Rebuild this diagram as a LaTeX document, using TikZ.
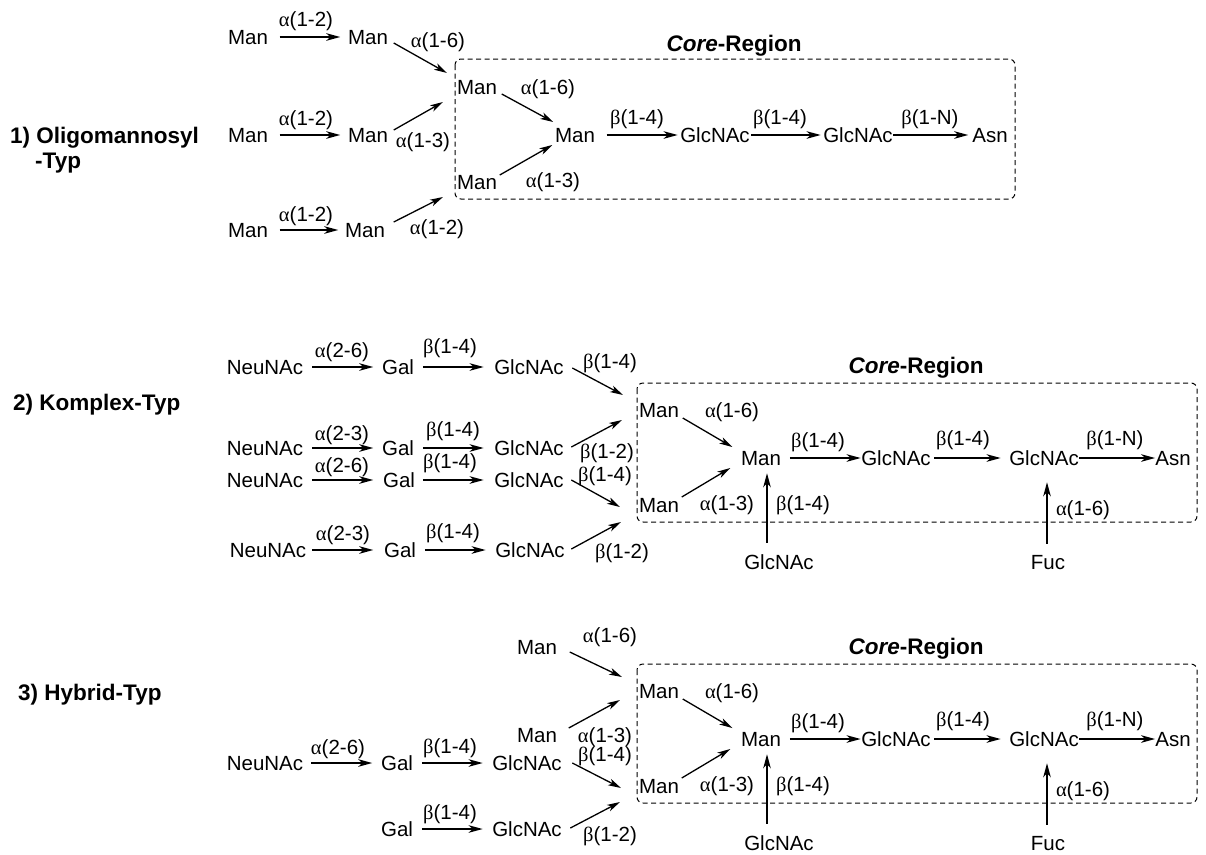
\documentclass[tikz,border=0pt]{standalone}
\usepackage{fontspec}
\setmainfont{Liberation Sans}
\newfontfamily\grk{Liberation Serif}
\usetikzlibrary{arrows.meta}
\newcommand\GA{{\grk α}}
\newcommand\GB{{\grk β}}
\tikzset{
 sug/.style={inner sep=0pt, text height=15pt, text depth=0pt, font=\fontsize{20.5}{24}\selectfont},
 lbl/.style={sug},
 ttl/.style={inner sep=0pt, anchor=west, text height=16pt, text depth=0pt, font=\fontsize{22.5}{26}\selectfont\bfseries},
 tip/.style={-{Stealth[length=14pt,width=7.5pt,inset=4pt]}},
 dtip/.style={-{Stealth[length=13pt,width=7pt,inset=3.5pt]}},
 harr/.style={tip, line width=1.8pt},
 darr/.style={dtip, line width=1.3pt},
 varr/.style={tip, line width=1.8pt},
 corebox/.style={draw, line width=1pt, dash pattern=on 5pt off 3.5pt, rounded corners=6pt},
}
\newcommand\corereg[2]{%
\begin{scope}[shift={(0,#2)}]
\draw[corebox] (637,383) rectangle (1197,522);
\node[ttl, anchor=center] (#1title) at (916,365) {\textit{Core}-Region};
\node[sug] (#1mt) at (659,410) {Man};
\node[sug] (#1mb) at (659,505) {Man};
\node[sug] (#1mc) at (761,458) {Man};
\node[sug] (#1ga) at (896,458) {GlcNAc};
\node[sug] (#1gb) at (1044,458) {GlcNAc};
\node[sug] (#1asn) at (1173,458) {Asn};
\node[sug] (#1gd) at (779,562) {GlcNAc};
\node[sug] (#1fuc) at (1048,562) {Fuc};
\draw[darr] ([xshift=3.6pt,yshift=-8pt]#1mt.east) -- ([xshift=-8.6pt,yshift=11pt]#1mc.west);
\draw[darr] ([xshift=2.6pt,yshift=8pt]#1mb.east) -- ([xshift=-10.6pt,yshift=-10pt]#1mc.west);
\draw[harr, shorten <=8.6pt, shorten >=0.4pt] (#1mc) -- (#1ga);
\draw[harr, shorten <=3.4pt, shorten >=8.4pt] (#1ga) -- (#1gb);
\draw[harr, shorten <=0.4pt, shorten >=0pt] (#1gb) -- (#1asn);
\draw[varr] ([xshift=-12pt,yshift=11.5pt]#1gd.north) -- ([xshift=6pt,yshift=-7.5pt]#1mc.south);
\draw[varr] ([xshift=-1pt,yshift=10.5pt]#1fuc.north) -- ([xshift=3pt,yshift=-16.5pt]#1gb.south);
\node[lbl] (#1l1) at (732,410) {\GA(1-6)};
\node[lbl] (#1l2) at (727,503) {\GA(1-3)};
\node[lbl] (#1l3) at (818,440) {\GB(1-4)};
\node[lbl] (#1l4) at (963,438) {\GB(1-4)};
\node[lbl] (#1l5) at (1115,438) {\GB(1-N)};
\node[lbl] (#1l6) at (803,503) {\GB(1-4)};
\node[lbl] (#1l7) at (1083,508) {\GA(1-6)};
\end{scope}}
\begin{document}
\begin{tikzpicture}[x=1pt,y=-1pt]
\useasboundingbox (0,0) rectangle (1206,854);
% ---------- Section 1 ----------
\node[ttl] (t1) at (10,135) {1) Oligomannosyl};
\node[ttl] (t1b) at (35,160) {-Typ};
\node[sug] (a1) at (248,37) {Man};
\node[sug] (a2) at (368,37) {Man};
\node[sug] (b1) at (248,135) {Man};
\node[sug] (b2) at (368,135) {Man};
\node[sug] (c1) at (248,230) {Man};
\node[sug] (c2) at (365,230) {Man};
\draw[harr, shorten <=11.6pt, shorten >=7.6pt] (a1) -- (a2);
\draw[harr, shorten <=11.6pt, shorten >=7.6pt] (b1) -- (b2);
\draw[harr, shorten <=11.6pt, shorten >=6.6pt] (c1) -- (c2);
\node[lbl] (la1) at (306,19) {\GA(1-2)};
\node[lbl] (lb1) at (306,118) {\GA(1-2)};
\node[lbl] (lc1) at (306,214) {\GA(1-2)};
\coordinate (ea) at (447,73);
\coordinate (eb) at (443,102);
\coordinate (ec) at (443,197);
\draw[darr] ([xshift=5.6pt,yshift=-6pt]a2.east) -- (ea);
\draw[darr] ([xshift=5.6pt,yshift=5pt]b2.east) -- (eb);
\draw[darr] ([xshift=8.6pt,yshift=8pt]c2.east) -- (ec);
\node[lbl] (la2) at (438,40) {\GA(1-6)};
\node[lbl] (lb2) at (423,140) {\GA(1-3)};
\node[lbl] (lc2) at (437,227) {\GA(1-2)};
\draw[corebox] (455,59) rectangle (1015,199);
\node[ttl, anchor=center] (core1) at (734,43) {\textit{Core}-Region};
\node[sug] (d1) at (477,87) {Man};
\node[sug] (d2) at (477,182) {Man};
\node[sug] (dc) at (575,135) {Man};
\node[sug] (e1) at (715,135) {GlcNAc};
\node[sug] (e2) at (858,135) {GlcNAc};
\node[sug] (e3) at (990,135) {Asn};
\draw[darr] ([xshift=4.6pt,yshift=-7pt]d1.east) -- ([xshift=-1.6pt,yshift=13pt]dc.west);
\draw[darr] ([xshift=2.6pt,yshift=7pt]d2.east) -- ([xshift=-2.6pt,yshift=-10pt]dc.west);
\draw[harr, shorten <=11.6pt, shorten >=2.4pt] (dc) -- (e1);
\draw[harr, shorten <=1.4pt, shorten >=2.4pt] (e1) -- (e2);
\draw[harr, shorten <=0pt, shorten >=3.9pt] (e2) -- (e3);
\node[lbl] (ld1) at (548,87) {\GA(1-6)};
\node[lbl] (ld2) at (553,180) {\GA(1-3)};
\node[lbl] (le1) at (637,117) {\GB(1-4)};
\node[lbl] (le2) at (780,117) {\GB(1-4)};
\node[lbl] (le3) at (930,117) {\GB(1-N)};
% ---------- Section 2 ----------
\node[ttl] (t2) at (13,402) {2) Komplex-Typ};
\node[sug] (n1) at (265,367) {NeuNAc};
\node[sug] (g1) at (398,367) {Gal};
\node[sug] (k1) at (529,367) {GlcNAc};
\node[sug] (n2) at (265,448) {NeuNAc};
\node[sug] (g2) at (398,448) {Gal};
\node[sug] (k2) at (529,448) {GlcNAc};
\node[sug] (n3) at (265,480) {NeuNAc};
\node[sug] (g3) at (399,480) {Gal};
\node[sug] (k3) at (529,480) {GlcNAc};
\node[sug] (n4) at (268,550) {NeuNAc};
\node[sug] (g4) at (400,550) {Gal};
\node[sug] (k4) at (530,550) {GlcNAc};
\draw[harr, shorten <=9pt, shorten >=8.6pt] (n1) -- (g1);
\draw[harr, shorten <=8.6pt, shorten >=10.4pt] (g1) -- (k1);
\draw[harr, shorten <=9pt, shorten >=8.6pt] (n2) -- (g2);
\draw[harr, shorten <=8.6pt, shorten >=10.4pt] (g2) -- (k2);
\draw[harr, shorten <=9pt, shorten >=9.6pt] (n3) -- (g3);
\draw[harr, shorten <=7.6pt, shorten >=10.4pt] (g3) -- (k3);
\draw[harr, shorten <=6pt, shorten >=10.6pt] (n4) -- (g4);
\draw[harr, shorten <=8.6pt, shorten >=9.4pt] (g4) -- (k4);
\node[lbl] (ln1) at (342,350) {\GA(2-6)};
\node[lbl] (lg1) at (450,346) {\GB(1-4)};
\node[lbl] (ln2) at (342,433) {\GA(2-3)};
\node[lbl] (lg2) at (453,429) {\GB(1-4)};
\node[lbl] (ln3) at (342,465) {\GA(2-6)};
\node[lbl] (lg3) at (450,461) {\GB(1-4)};
\node[lbl] (ln4) at (343,533) {\GA(2-3)};
\node[lbl] (lg4) at (453,531) {\GB(1-4)};
\coordinate (f1) at (623,395);
\coordinate (f2) at (622,420);
\coordinate (f3) at (620,507);
\coordinate (f4) at (621,522);
\draw[darr] ([xshift=8.4pt,yshift=-1pt]k1.east) -- (f1);
\draw[darr] ([xshift=7.4pt,yshift=1pt]k2.east) -- (f2);
\draw[darr] ([xshift=7.4pt]k3.east) -- (f3);
\draw[darr] ([xshift=6.4pt,yshift=1pt]k4.east) -- (f4);
\node[lbl] (lk1) at (610,361) {\GB(1-4)};
\node[lbl] (lk2) at (607,451) {\GB(1-2)};
\node[lbl] (lk3) at (605,474) {\GB(1-4)};
\node[lbl] (lk4) at (622,551) {\GB(1-2)};
\corereg{B}{0}
% ---------- Section 3 ----------
\node[ttl] (t3) at (18,692) {3) Hybrid-Typ};
\node[sug] (xm1) at (537,647) {Man};
\node[sug] (xm2) at (537,735) {Man};
\node[sug] (hn) at (265,763) {NeuNAc};
\node[sug] (hg) at (397,763) {Gal};
\node[sug] (hk) at (527,763) {GlcNAc};
\node[sug] (hg2) at (397,829) {Gal};
\node[sug] (hk2) at (527,829) {GlcNAc};
\draw[harr, shorten <=8pt, shorten >=8.6pt] (hn) -- (hg);
\draw[harr, shorten <=8.6pt, shorten >=9.4pt] (hg) -- (hk);
\draw[harr, shorten <=8.6pt, shorten >=9.4pt] (hg2) -- (hk2);
\node[lbl] (lhn) at (338,747) {\GA(2-6)};
\node[lbl] (lhg) at (450,746) {\GB(1-4)};
\node[lbl] (lhg2) at (450,812) {\GB(1-4)};
\coordinate (h1) at (622,677);
\coordinate (h2) at (620,700);
\coordinate (h3) at (621,788);
\coordinate (h4) at (620,802);
\draw[darr] ([xshift=12.6pt,yshift=-5pt]xm1.east) -- (h1);
\draw[darr] ([xshift=11.6pt,yshift=7pt]xm2.east) -- (h2);
\draw[darr] ([xshift=10.4pt]hk.east) -- (h3);
\draw[darr] ([xshift=8.4pt,yshift=1pt]hk2.east) -- (h4);
\node[lbl] (lx1) at (610,635) {\GA(1-6)};
\node[lbl] (lx2) at (605,735) {\GA(1-3)};
\node[lbl] (lx3) at (605,754) {\GB(1-4)};
\node[lbl] (lx4) at (610,834) {\GB(1-2)};
\corereg{C}{281}
\end{tikzpicture}
\end{document}
